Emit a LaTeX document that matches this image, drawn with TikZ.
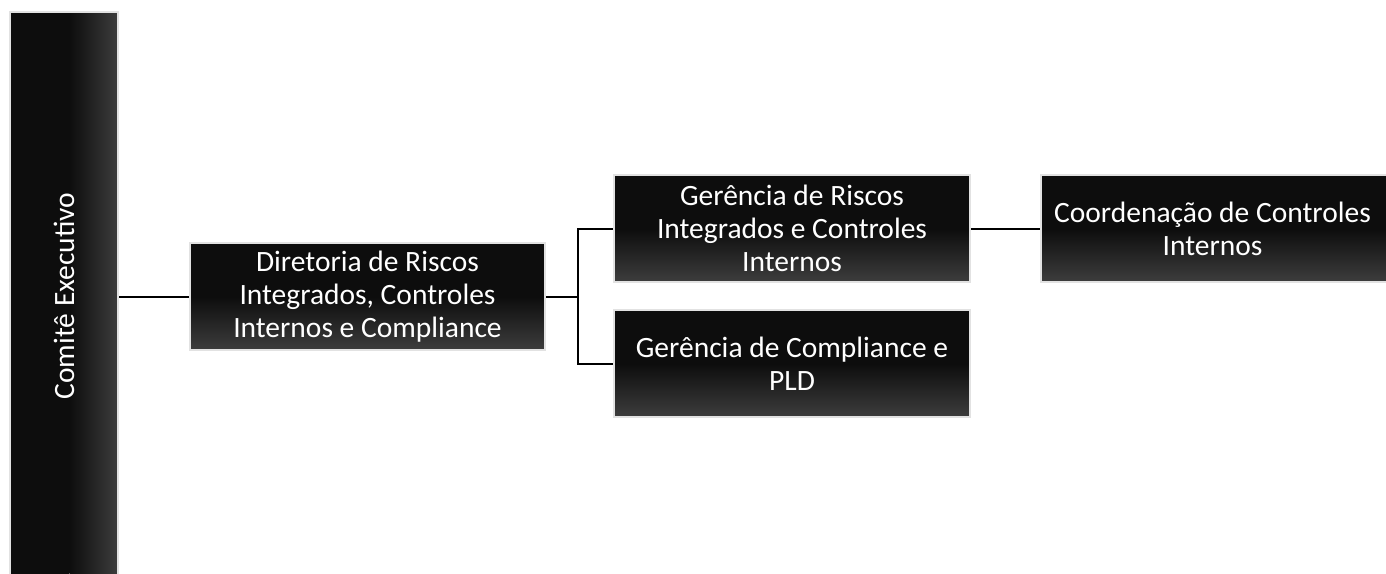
\documentclass[tikz,border=0pt]{standalone}
\usepackage{fontspec}
\setmainfont{Carlito}
\usetikzlibrary{calc}
\definecolor{boxdark}{HTML}{0D0D0D}
\definecolor{boxlight}{HTML}{3D3D3D}
\definecolor{boxedge}{HTML}{E2E2E2}
\begin{document}
\begin{tikzpicture}[x=1pt,y=-1pt,
  boxbase/.style={draw=boxedge, line width=2pt, text=white, align=center,
    font=\fontsize{29.5}{33}\selectfont, inner sep=0pt},
  box/.style={boxbase, path picture={
    \fill[boxdark] (path picture bounding box.north west) rectangle
      ($(path picture bounding box.north east)!0.5!(path picture bounding box.south east)$);
    \shade[top color=boxdark, bottom color=boxlight]
      ($(path picture bounding box.north west)!0.5!(path picture bounding box.south west)$)
      rectangle (path picture bounding box.south east);}},
  sidebox/.style={boxbase, path picture={
    \fill[boxdark] (path picture bounding box.north west) rectangle
      ($(path picture bounding box.south west)!0.55!(path picture bounding box.south east)$);
    \shade[left color=boxdark, right color=boxlight]
      ($(path picture bounding box.north west)!0.55!(path picture bounding box.north east)$)
      rectangle (path picture bounding box.south east);}},
  wire/.style={line width=2pt, black}]
\useasboundingbox (0,0) rectangle (1386,573);
\node[sidebox, minimum width=108pt, minimum height=576pt] (com) at (64,300) {};
\node[text=white, font=\fontsize{29.5}{33}\selectfont, rotate=90] (comt) at (64,296) {Comitê Executivo};
\node[box, minimum width=355pt, minimum height=107pt] (dir) at (367.5,296.5) {Diretoria de Riscos\\Integrados, Controles\\Internos e Compliance};
\node[box, minimum width=356pt, minimum height=107pt] (gr) at (792,228.5) {Gerência de Riscos\\Integrados e Controles\\Internos};
\node[box, minimum width=356pt, minimum height=107pt] (gc) at (792,363.5) {Gerência de Compliance e\\PLD};
\node[box, minimum width=356pt, minimum height=107pt, anchor=west] (co) at (1040,228.5) {\hspace*{-13pt}Coordenação de Controles\\\hspace*{-13pt}Internos};
\coordinate (split) at (578,296.5);
\draw[wire] (com.east |- dir.west) -- (dir.west);
\draw[wire] (dir.east) -- (split);
\draw[wire] (split) |- (gr.west);
\draw[wire] (split) |- (gc.west);
\draw[wire] (gr.east) -- (co.west);
\end{tikzpicture}
\end{document}
